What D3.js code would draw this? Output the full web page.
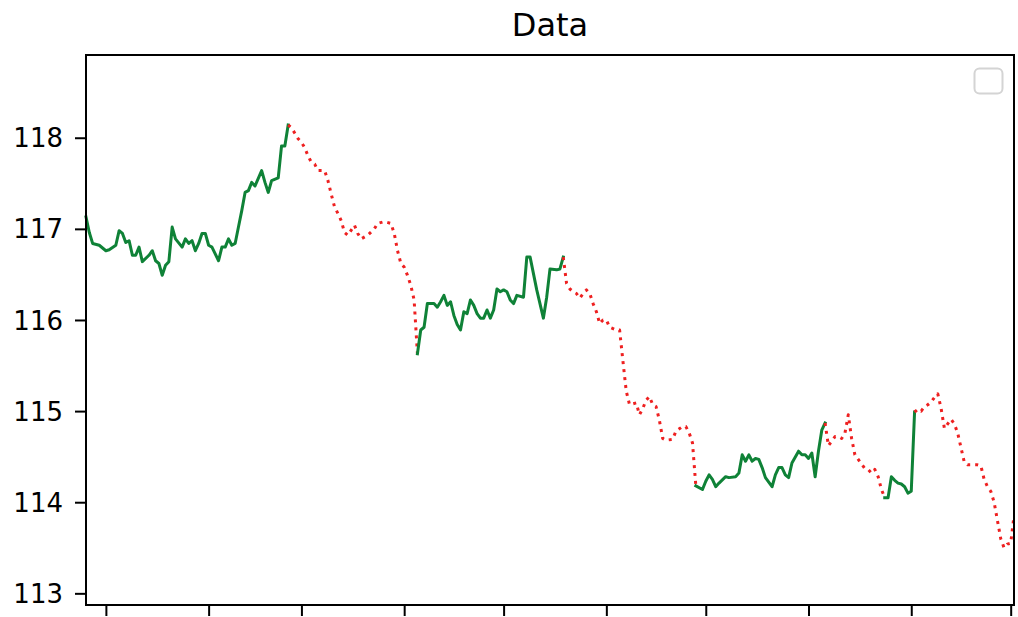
<!DOCTYPE html>
<html>
<head>
<meta charset="utf-8">
<script src="https://cdn.jsdelivr.net/npm/d3@7"></script>
<style>
  html, body { margin: 0; padding: 0; background: #ffffff; }
  svg { display: block; }
  text { font-family: "DejaVu Sans", sans-serif; fill: #000; }
</style>
</head>
<body>
<svg id="chart" width="1018" height="617"></svg>
<script>
// Daily closes, keyed by day offset from 2023-01-01
const baseDate = "2023-01-01";
const days = [
  -6, -5, -4, -2, 0, 1, 3, 4, 5, 6, 7, 8, 9, 10, 11, 13, 14, 15, 16, 17, 18, 19, 20, 21,
  23, 24, 25, 26, 27, 28, 29, 30, 31, 32, 34, 35, 36, 37, 38, 39, 40, 41, 42, 43, 44, 45,
  47, 48, 49, 50, 52, 53, 54, 55,
  56, 58, 59, 60, 61, 62, 63, 64, 66, 67, 68, 69, 70, 71, 72, 73, 75, 76, 77, 79, 81, 82,
  84, 86, 87, 88, 89, 90, 91, 92, 93, 94,
  95, 96, 97, 99, 100, 101, 102, 103, 104, 105, 106, 107, 108, 109, 110, 111, 112, 113,
  114, 115, 116, 117, 118, 119, 120, 121, 122, 123, 124, 126, 127, 128, 130, 132, 133,
  134, 136, 137, 138,
  139, 140, 141, 142, 143, 144, 145, 146, 147, 148, 149, 150, 151, 152, 154, 155, 156,
  157, 158, 160, 161, 162, 163, 164, 165, 166, 167, 168, 169, 171, 172, 174, 175, 176,
  177, 178,
  180, 181, 182, 183, 184, 185, 187, 188, 190, 191, 192, 193, 194, 195, 196, 197, 198,
  199, 201, 202, 203, 204, 205, 206, 207, 209, 210, 211, 212, 213, 214, 215, 216, 217,
  218, 219, 220, 221, 222, 223, 224, 225, 226, 227, 228, 229, 230, 231, 232, 233, 234, 235,
  236, 237, 238, 239, 240, 241, 242, 243, 244,
  245, 246, 247, 248, 249, 250, 251, 252, 253, 254, 255, 256, 257, 258, 259, 260, 261,
  262, 263, 264, 265, 266, 267, 268, 269, 270, 271, 272, 273, 274
];
const values = [
  117.13, 116.96, 116.84, 116.82, 116.76, 116.77, 116.82, 116.98, 116.95, 116.85, 116.87,
  116.71, 116.71, 116.80, 116.64, 116.71, 116.76, 116.65, 116.62, 116.49, 116.60, 116.64,
  117.02, 116.89,
  116.80, 116.89, 116.84, 116.87, 116.76, 116.84, 116.95, 116.95, 116.82, 116.80, 116.65,
  116.80, 116.80, 116.89, 116.82, 116.84, 117.02, 117.20, 117.40, 117.42, 117.51, 117.47,
  117.64, 117.51, 117.40, 117.53, 117.56, 117.91, 117.91, 118.14,
  118.11, 117.99, 117.95, 117.89, 117.80, 117.73, 117.71, 117.64, 117.64, 117.53, 117.38,
  117.24, 117.17, 117.09, 116.96, 116.93, 117.04, 116.95, 116.89, 116.93, 117.00, 117.06,
  117.08, 117.06, 116.95, 116.76, 116.62, 116.58, 116.49, 116.38, 116.22, 115.63,
  115.89, 115.92, 116.18, 116.18, 116.14, 116.20, 116.27, 116.16, 116.20, 116.05, 115.95,
  115.89, 116.09, 116.07, 116.22, 116.16, 116.07, 116.02,
  116.02, 116.11, 116.02, 116.11, 116.34, 116.31, 116.33, 116.31, 116.22, 116.18, 116.27,
  116.25, 116.69, 116.69, 116.33, 116.02, 116.25,
  116.56, 116.55, 116.56, 116.69,
  116.40, 116.34, 116.31, 116.29, 116.24, 116.29, 116.33, 116.29, 116.18, 116.09, 115.96,
  116.00, 116.00, 115.92, 115.89, 115.89, 115.55,
  115.22, 115.07, 115.09, 114.96, 115.03, 115.12, 115.16, 115.07, 115.05, 114.90, 114.70,
  114.68, 114.69, 114.78, 114.83, 114.83, 114.76,
  114.65, 114.18,
  114.14, 114.23, 114.30, 114.25, 114.17, 114.21, 114.28, 114.27, 114.28, 114.32, 114.52,
  114.45, 114.52, 114.45, 114.48, 114.47, 114.38,
  114.27, 114.17, 114.30, 114.38, 114.38, 114.30, 114.27, 114.43, 114.56, 114.52, 114.52,
  114.48, 114.54, 114.28, 114.56, 114.79, 114.87,
  114.62, 114.67, 114.72, 114.72, 114.70, 114.76, 114.96, 114.70, 114.52, 114.47, 114.42,
  114.37, 114.36, 114.32, 114.36, 114.28, 114.14, 114.05,
  114.05, 114.28, 114.24, 114.21, 114.20, 114.17, 114.10, 114.12, 114.99,
  115.02, 115.00, 115.05, 115.07, 115.10, 115.15, 115.19, 115.03, 114.81, 114.86, 114.91,
  114.86, 114.76, 114.60, 114.44, 114.41, 114.41,
  114.41, 114.41, 114.40, 114.25, 114.17, 114.12, 114.00, 113.80, 113.60, 113.50, 113.54,
  113.55, 113.85
];

// Trend regimes: boundaries (day offsets) and the direction of each stretch
const segmentBounds = [-6, 55, 94, 138, 178, 217, 235, 244, 274];
const segmentTrend = ["up", "down", "up", "down", "up", "down", "up", "down"];

const yTicks = [113, 114, 115, 116, 117, 118];
const yLimits = [112.872, 118.908];
const titleText = "Data";

const trendStyle = {
  up:   { stroke: "#0f8237", dash: null },
  down: { stroke: "#ee2020", dash: "3,5" }
};

const base = d3.utcParse("%Y-%m-%d")(baseDate);
const points = days.map((d, i) => ({ day: d, date: d3.utcDay.offset(base, d), value: values[i] }));

const svg = d3.select("#chart");
const margin = { left: 86, right: 4, top: 55, bottom: 12 };
const W = 1018, H = 617;

const x = d3.scaleUtc()
  .domain(d3.extent(points, p => p.date))
  .range([margin.left, W - margin.right]);

const y = d3.scaleLinear()
  .domain(yLimits)
  .range([H - margin.bottom, margin.top]);

// Title
svg.append("text")
  .attr("x", (margin.left + W - margin.right) / 2)
  .attr("y", 36)
  .attr("text-anchor", "middle")
  .style("font-size", "32px")
  .text(titleText);

// Plot frame
svg.append("rect")
  .attr("x", margin.left)
  .attr("y", margin.top)
  .attr("width", W - margin.right - margin.left)
  .attr("height", H - margin.bottom - margin.top)
  .attr("fill", "#fff");

// Trend segments
const line = d3.line().x(p => x(p.date)).y(p => y(p.value));
const plot = svg.append("g");
segmentTrend.forEach((trend, i) => {
  const a = segmentBounds[i], b = segmentBounds[i + 1];
  const seg = points.filter(p => p.day >= a && p.day <= b);
  const st = trendStyle[trend];
  plot.append("path")
    .datum(seg)
    .attr("d", line)
    .attr("fill", "none")
    .attr("stroke", st.stroke)
    .attr("stroke-width", 3)
    .attr("stroke-linejoin", "round")
    .attr("stroke-linecap", st.dash ? "butt" : "square")
    .attr("stroke-dasharray", st.dash);
});

// Axes
const months = d3.utcMonths(d3.utcDay.offset(base, 0), x.domain()[1]);
const xAxis = d3.axisBottom(x).tickValues(months).tickFormat("").tickSize(11).tickSizeOuter(0);
const yAxis = d3.axisLeft(y).tickValues(yTicks).tickFormat(d3.format("d")).tickSize(11).tickPadding(12).tickSizeOuter(0);

const gx = svg.append("g").attr("transform", `translate(0,${H - margin.bottom})`).call(xAxis);
const gy = svg.append("g").attr("transform", `translate(${margin.left},0)`).call(yAxis);
[gx, gy].forEach(g => {
  g.select(".domain").remove();
  g.selectAll(".tick line").attr("stroke", "#000").attr("stroke-width", 2);
});
gy.selectAll(".tick text").style("font-size", "26px").attr("fill", "#000").attr("dy", "0.35em");

// Frame spines
svg.append("rect")
  .attr("x", margin.left)
  .attr("y", margin.top)
  .attr("width", W - margin.right - margin.left)
  .attr("height", H - margin.bottom - margin.top)
  .attr("fill", "none")
  .attr("stroke", "#000")
  .attr("stroke-width", 2);

// Empty legend frame
svg.append("rect")
  .attr("x", 974.5)
  .attr("y", 68.5)
  .attr("width", 28)
  .attr("height", 25)
  .attr("rx", 5)
  .attr("fill", "#fff")
  .attr("fill-opacity", 0.8)
  .attr("stroke", "#d4d4d4")
  .attr("stroke-width", 2);
</script>
</body>
</html>
